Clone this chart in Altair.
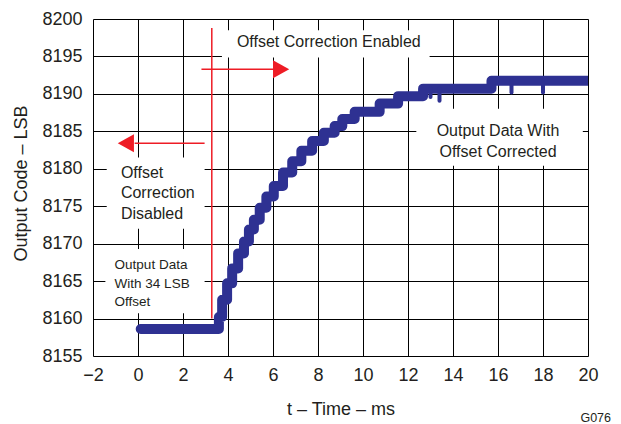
import altair as alt
import pandas as pd

# ---- data ----
curve_t = [0.12, 3.56, 3.63, 3.85, 4.07, 4.30, 4.60, 4.82, 5.04, 5.26, 5.56, 5.85,
           6.22, 6.67, 7.04, 7.48, 8.00, 8.52, 8.96, 9.20, 9.63, 9.63, 10.74, 10.74,
           11.56, 11.56, 12.67, 12.67, 15.71, 15.71, 20.0]
curve_code = [8158.6, 8158.6, 8160.2, 8162.5, 8164.7, 8166.7, 8168.7, 8170.3, 8171.9,
              8173.2, 8174.8, 8176.3, 8177.7, 8179.5, 8181.0, 8182.4, 8183.7, 8184.8,
              8185.7, 8186.65, 8186.65, 8187.6, 8187.6, 8188.7, 8188.7, 8189.7, 8189.7,
              8190.7, 8190.7, 8191.75, 8191.75]

dip_t = [13.0, 13.4, 16.6, 18.0]
dip_top = [8190.7, 8190.7, 8191.75, 8191.75]
dip_bottom = [8189.6, 8189.1, 8190.2, 8190.2]

x_ticks = list(range(-2, 21, 2))
y_ticks = list(range(8155, 8201, 5))

# white label backgrounds
mask_t1 = [3.73, -1.39, -1.45, 12.37]
mask_t2 = [12.96, 2.96, 2.96, 19.77]
mask_v1 = [8194.85, 8172.0, 8160.7, 8180.4]
mask_v2 = [8198.5, 8181.5, 8169.3, 8188.0]

label_text = ["Offset Correction Enabled", "Offset", "Correction", "Disabled",
              "Output Data", "With 34 LSB", "Offset", "Output Data With", "Offset Corrected"]
label_t = [8.48, -0.76, -0.76, -0.76, -1.04, -1.04, -1.04, 16.0, 16.0]
label_v = [8196.9, 8179.5, 8176.8, 8173.9, 8167.2, 8164.6, 8162.2, 8185.1, 8182.3]
label_align = ["center", "left", "left", "left", "left", "left", "left", "center", "center"]
label_size = [16, 16, 16, 16, 13.5, 13.5, 13.5, 16, 16]

vline_t = [3.28]
vline_v1 = [8160.0]
vline_v2 = [8198.8]

arrow_v = [8193.3, 8183.4]
arrow_from = [2.82, 2.96]
arrow_to = [6.0, -0.15]
arrow_head = [6.36, -0.54]
arrow_dir = ["right", "left"]

FONT = "Liberation Sans"
TXT = "#231f20"
BLUE = "#2e3192"
RED = "#ee1c25"

xscale = alt.Scale(domain=[-2, 20], nice=False, zero=False)
yscale = alt.Scale(domain=[8155, 8200], nice=False, zero=False)

xaxis = alt.Axis(values=x_ticks, title="t – Time – ms", grid=True, gridColor="#000",
                 gridWidth=1, domain=False, ticks=False, labelFontSize=18, labelFont=FONT,
                 labelColor=TXT, labelPadding=10, labelFlush=False, labelOverlap=False,
                 labelExpr="datum.value < 0 ? '\u2212' + abs(datum.value) : datum.label",
                 titleFontSize=18, titleFont=FONT, titleFontWeight="normal", titleColor=TXT,
                 titleY=53, titleBaseline="middle")
yaxis = alt.Axis(values=y_ticks, title="Output Code – LSB", format="d", grid=True,
                 gridColor="#000", gridWidth=1, domain=False, ticks=False,
                 labelFontSize=18, labelFont=FONT, labelColor=TXT, labelPadding=11,
                 labelOverlap=False, labelFlush=False,
                 titleFontSize=18, titleFont=FONT, titleFontWeight="normal", titleColor=TXT,
                 titleX=-72, titleY=164, titleBaseline="middle", titleAngle=-90)


def X(field):
    return alt.X(field, type="quantitative", scale=xscale, axis=xaxis)


def Y(field):
    return alt.Y(field, type="quantitative", scale=yscale, axis=yaxis)


masks = pd.DataFrame({"t": mask_t1, "t2": mask_t2, "v": mask_v1, "v2": mask_v2})
mask_layer = alt.Chart(masks).mark_rect(color="white").encode(
    x=X("t"), x2="t2", y=Y("v"), y2="v2")

vline = pd.DataFrame({"t": vline_t, "v": vline_v1, "v2": vline_v2})
vline_layer = alt.Chart(vline).mark_rule(color=RED, strokeWidth=1.5).encode(
    x=X("t"), y=Y("v"), y2="v2")

arrows = pd.DataFrame({"t": arrow_from, "t2": arrow_to, "v": arrow_v,
                       "h": arrow_head, "dir": arrow_dir})
arrow_line = alt.Chart(arrows).mark_rule(color=RED, strokeWidth=1.5).encode(
    x=X("t"), x2="t2", y=Y("v"))
head_r = alt.Chart(arrows).transform_filter("datum.dir == 'right'").mark_point(
    shape="M-0.9,-1L0.9,0L-0.9,1Z", filled=True, color=RED, size=324, opacity=1,
    strokeWidth=0).encode(x=X("h"), y=Y("v"))
head_l = alt.Chart(arrows).transform_filter("datum.dir == 'left'").mark_point(
    shape="M0.9,-1L-0.9,0L0.9,1Z", filled=True, color=RED, size=324, opacity=1,
    strokeWidth=0).encode(x=X("h"), y=Y("v"))

curve = pd.DataFrame({"t": curve_t, "v": curve_code, "o": list(range(len(curve_t)))})
curve_layer = alt.Chart(curve).mark_line(
    color=BLUE, strokeWidth=10, interpolate="step", strokeCap="round",
    strokeJoin="round", clip=True).encode(x=X("t"), y=Y("v"), order="o:Q")

dips = pd.DataFrame({"t": dip_t, "v": dip_top, "v2": dip_bottom})
dip_layer = alt.Chart(dips).mark_rule(color=BLUE, strokeWidth=4, strokeCap="round").encode(
    x=X("t"), y=Y("v"), y2="v2")

labels = pd.DataFrame({"t": label_t, "v": label_v, "text": label_text,
                       "align": label_align, "size": label_size})
text_layers = []
for al in ["left", "center"]:
    for sz in sorted(set(label_size)):
        sub = labels[(labels["align"] == al) & (labels["size"] == sz)]
        if len(sub) == 0:
            continue
        text_layers.append(alt.Chart(sub).mark_text(
            align=al, baseline="middle", font=FONT, fontSize=sz, color=TXT).encode(
            x=X("t"), y=Y("v"), text="text:N"))

g076 = alt.Chart(pd.DataFrame({"text": ["G076"]})).mark_text(
    align="right", baseline="middle", font=FONT, fontSize=12.5, color=TXT).encode(
    x=alt.value(518), y=alt.value(399), text="text:N")

chart = alt.layer(mask_layer, vline_layer, arrow_line, head_r, head_l, curve_layer,
                  dip_layer, *text_layers, g076).properties(
    width=495, height=337,
    padding={"left": 85, "top": 11, "right": 25, "bottom": 68},
    autosize=alt.AutoSizeParams(type="none"),
).configure_view(stroke=TXT, strokeWidth=2).configure(background="white")

chart.save("out.html", embed_options={"renderer": "svg", "actions": False})
